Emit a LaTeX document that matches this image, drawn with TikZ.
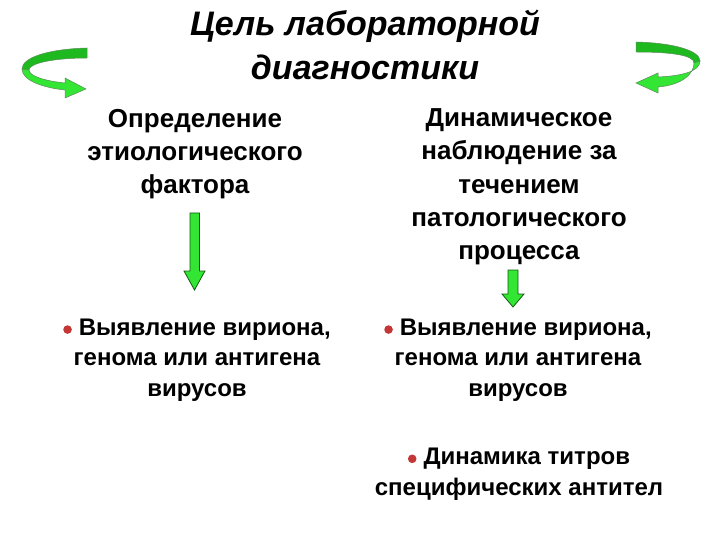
\documentclass[tikz,border=0pt]{standalone}
\usepackage{fontspec}
\setmainfont{Liberation Sans}
\definecolor{arrowgreen}{RGB}{51,230,51}
\definecolor{backgreen}{RGB}{30,185,30}
\definecolor{edgegreen}{RGB}{20,90,20}
\definecolor{bulletred}{RGB}{195,55,55}
\newcommand{\blt}{\tikz[baseline=-0.45ex]\fill[bulletred] (0,0) circle (4.3pt);\hspace{7pt}}
\begin{document}
\begin{tikzpicture}[x=1pt,y=-1pt,
  title/.style={font=\fontsize{34}{44}\selectfont\bfseries\itshape, align=center},
  body/.style={font=\fontsize{26}{33.3}\selectfont\bfseries, align=center},
  bul/.style={font=\fontsize{24}{30.5}\selectfont\bfseries, align=center},
  blockarrow/.style={fill=arrowgreen, draw=edgegreen, line width=0.8pt, line join=miter},
  curlfront/.style={fill=arrowgreen, draw=edgegreen!70, line width=0.5pt},
  curlback/.style={fill=backgreen, draw=edgegreen!70, line width=0.5pt}]
\useasboundingbox (0,0) rectangle (720,540);
\fill[white] (0,0) rectangle (720,540);
% title
\node[title] (title) at (365,45) {Цель лабораторной\\диагностики};
% top blocks
\node[body] (etio) at (195,154) {Определение\\этиологического\\фактора};
\node[body] (dyn) at (519,187) {Динамическое\\наблюдение за\\течением\\патологического\\процесса};
% bullet blocks
\node[bul] (b1) at (197,360) {\blt Выявление вириона,\\генома или антигена\\вирусов};
\node[bul] (b2) at (518,360) {\blt Выявление вириона,\\генома или антигена\\вирусов};
\node[bul] (b3) at (519,474) {\blt Динамика титров\\специфических антител};
% down arrows
\draw[blockarrow] (190,213) -- (199.5,213) -- (199.5,271) -- (205,271) -- (194.5,290) -- (184,271) -- (190,271) -- cycle;
\draw[blockarrow] (508,270) -- (518,270) -- (518,294) -- (524,294) -- (513,307) -- (502,294) -- (508,294) -- cycle;
% curled arrow, left
\draw[curlback] (87,48) .. controls (50,49) and (22,57) .. (22,69)
  -- (29,70) .. controls (29,63) and (55,58) .. (87,58) -- cycle;
\draw[curlfront] (22,69) .. controls (22,81) and (45,88) .. (65,90) -- (65,98) -- (86,89) -- (65,78) -- (65,83)
  .. controls (45,81) and (29,76) .. (29,70) -- cycle;
% curled arrow, right
\draw[curlback] (636,42) .. controls (675,43) and (700,51) .. (700,61)
  -- (694,63) .. controls (694,55) and (670,52) .. (636,52) -- cycle;
\draw[curlfront] (700,61) .. controls (700,72) and (680,76) .. (658,77) -- (658,73) -- (636,83) -- (658,93) -- (658,87)
  .. controls (682,85) and (694,74) .. (694,63) -- cycle;
\end{tikzpicture}
\end{document}
